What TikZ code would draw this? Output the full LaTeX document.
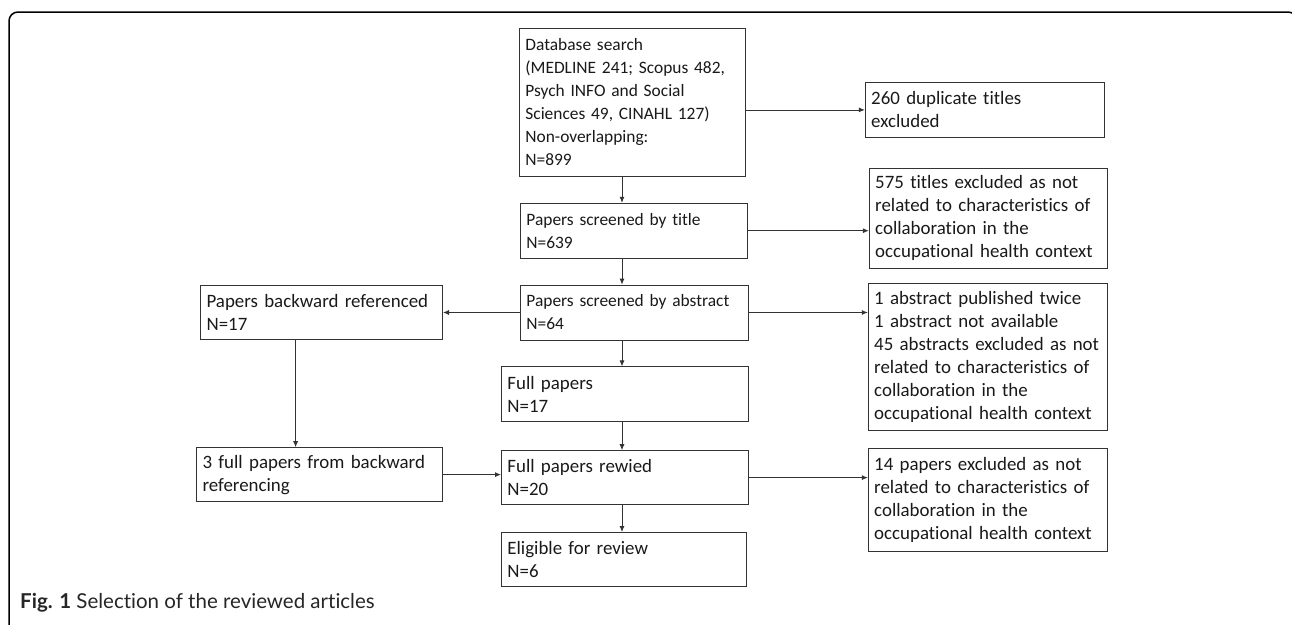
\documentclass[tikz,border=0pt]{standalone}
\usepackage{fontspec}
\setmainfont{Carlito}[Ligatures={NoCommon}]
\newfontfamily\captionfont{Lato}[Ligatures={NoCommon}]
\usetikzlibrary{positioning}
\usetikzlibrary{arrows.meta}

\tikzset{
	box/.style={draw=black!80, line width=0.8pt, align=left, anchor=north west,
		inner xsep=6pt, inner ysep=3pt, text=black!90,
		font=\fontsize{17.4}{23}\selectfont},
	bigtext/.style={font=\fontsize{18.9}{23}\selectfont},
	flow/.style={draw=black!80, line width=0.8pt, -{Latex[length=6pt,width=5pt]}}
}

\begin{document}
\begin{tikzpicture}[x=1pt, y=-1pt]
	  \useasboundingbox (0,0) rectangle (1292,624);
	  % Outer frame
	  \draw[line width=1.5pt, rounded corners=9pt] (9,640) -- (9,12) -- (1297,12) -- (1297,640);

	  % Main column
	  \node[box, text width=214pt, minimum height=148pt] (db) at (519,28)
		{Database search\\(MEDLINE 241; Scopus 482,\\Psych INFO and Social\\Sciences 49, CINAHL 127)\\Non-overlapping:\\N=899};
	  \node[box, text width=215pt, minimum height=55pt, below=26pt of db.south west, anchor=north west, xshift=1pt] (title)
		{Papers screened by title\\N=639};
	  \node[box, text width=216pt, minimum height=55pt, below=26pt of title.south west, anchor=north west] (abstract)
		{Papers screened by abstract\\N=64};
	  \node[box, bigtext, text width=235pt, minimum height=55pt, below=26pt of abstract.south west, anchor=north west, xshift=-19pt] (full)
		{Full papers\\N=17};
	  \node[box, bigtext, text width=235pt, minimum height=54pt, below=28pt of full.south west, anchor=north west] (rewied)
		{Full papers rewied\\N=20};
	  \node[box, bigtext, text width=233pt, minimum height=54pt, below=27pt of rewied.south west, anchor=north west] (eligible)
		{Eligible for review\\N=6};

	  % Excluded records
	  \node[box, bigtext, text width=227pt, minimum height=55pt, right=119pt of db.north east, anchor=north west, yshift=-54pt] (dup)
		{260 duplicate titles\\excluded};
	  \node[box, bigtext, text width=226pt, minimum height=100pt, right=121pt of title.north east, anchor=north west, yshift=35pt] (titlex)
		{575 titles excluded as not\\related to characteristics of\\collaboration in the\\occupational health context};
	  \node[box, bigtext, text width=227pt, minimum height=147pt, right=119pt of abstract.north east, anchor=north west, yshift=2pt] (abstractx)
		{1 abstract published twice\\1 abstract not available\\45 abstracts excluded as not\\related to characteristics of\\collaboration in the\\occupational health context};
	  \node[box, bigtext, text width=227pt, minimum height=103pt, right=119pt of rewied.north east, anchor=north west, yshift=2pt] (rewiedx)
		{14 papers excluded as not\\related to characteristics of\\collaboration in the\\occupational health context};

	  % Backward referencing
	  \node[box, bigtext, text width=230pt, minimum height=54pt, left=77pt of abstract.north west, anchor=north east] (backref)
		{Papers backward referenced\\N=17};
	  \node[box, bigtext, text width=234pt, minimum height=54pt, left=58pt of rewied.north west, anchor=north east, yshift=3pt] (backfull)
		{3 full papers from backward\\referencing};

	  % Caption
	  \node[anchor=base west, inner sep=0pt, font=\captionfont\fontsize{20.5}{24}\selectfont, text=black!85] (caption) at (20,608)
		{\textbf{Fig. 1} Selection of the reviewed articles};

	  % Arrows
	  \coordinate (spine) at (622,0);
	  \draw[flow] (db.south -| spine) -- (title.north -| spine);
	  \draw[flow] (title.south -| spine) -- (abstract.north -| spine);
	  \draw[flow] (abstract.south -| spine) -- (full.north -| spine);
	  \draw[flow] (full.south -| spine) -- (rewied.north -| spine);
	  \draw[flow] (rewied.south -| spine) -- (eligible.north -| spine);
	  \draw[flow] (db.east |- dup.west) -- (dup.west);
	  \draw[flow] (title.east) -- (title.east -| titlex.west);
	  \draw[flow] (abstract.east) -- (abstract.east -| abstractx.west);
	  \draw[flow] (abstract.west) -- (abstract.west -| backref.east);
	  \draw[flow] ([xshift=-26pt]backref.south) -- ([xshift=-26pt]backref.south |- backfull.north);
	  \draw[flow] (backfull.east) -- (backfull.east -| rewied.west);
	  \draw[flow] (rewied.east) -- (rewied.east -| rewiedx.west);
\end{tikzpicture}
\end{document}
